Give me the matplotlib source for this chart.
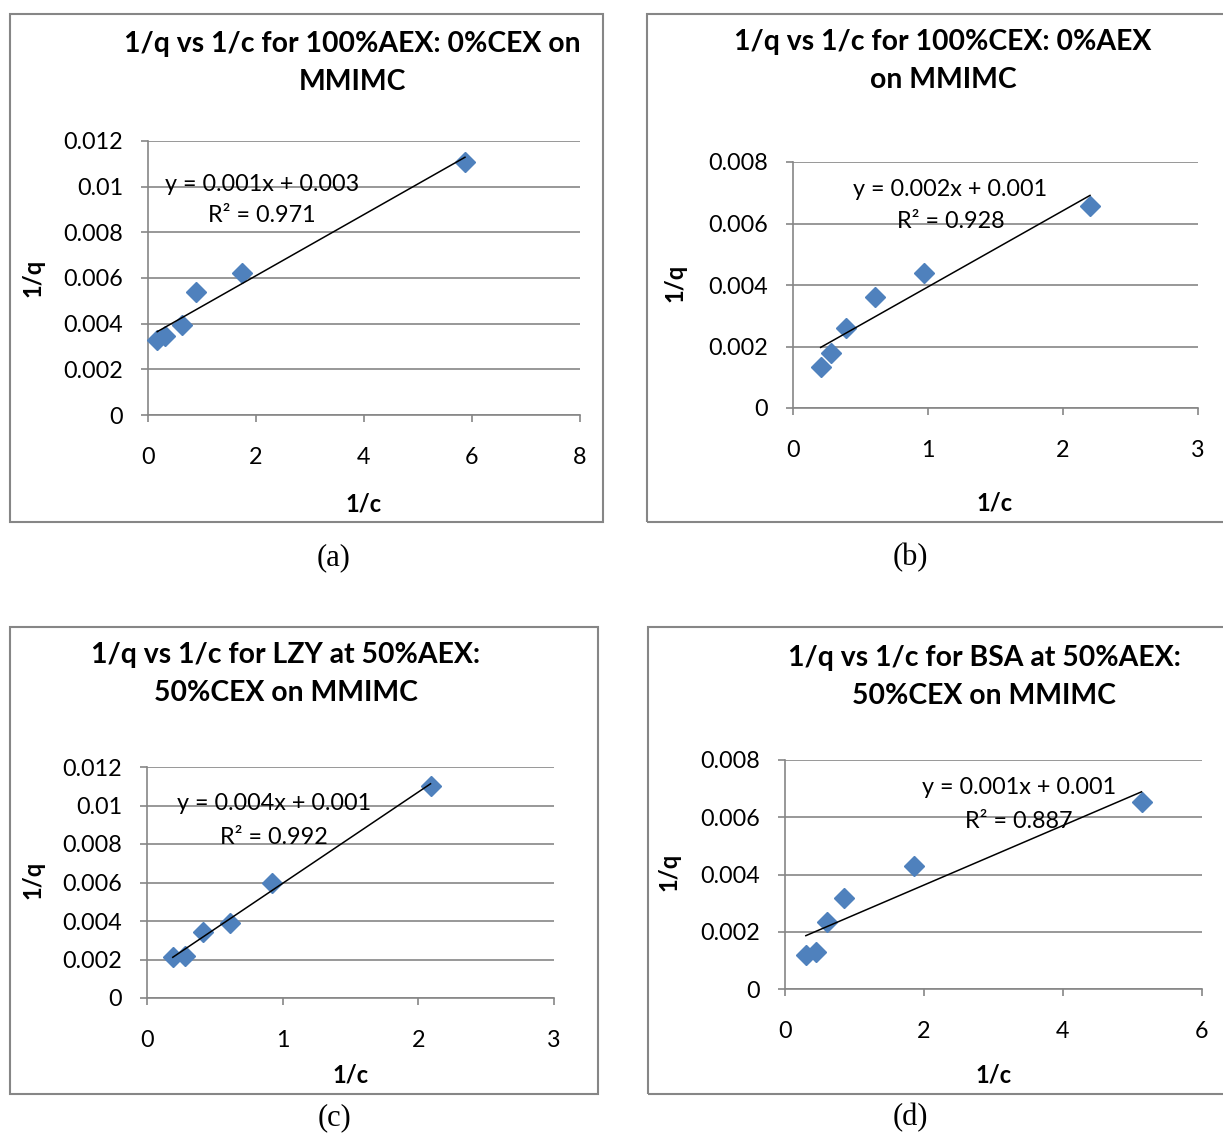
import numpy as np
import matplotlib
matplotlib.use("Agg")
import matplotlib.pyplot as plt
from matplotlib.patches import Rectangle

W, H = 1223, 1135

# values: x = 1/c, y = 1/q
x_a = [0.17, 0.31, 0.63, 0.89, 1.74, 5.87]
y_a = [0.0033, 0.00345, 0.00395, 0.0054, 0.0062, 0.0111]
x_b = [0.205, 0.28, 0.39, 0.61, 0.97, 2.2]
y_b = [0.00134, 0.0018, 0.00259, 0.0036, 0.0044, 0.00658]
x_c = [0.19, 0.28, 0.41, 0.61, 0.92, 2.09]
y_c = [0.00212, 0.0022, 0.00342, 0.00389, 0.006, 0.011]
x_d = [0.30, 0.44, 0.61, 0.85, 1.85, 5.13]
y_d = [0.00119, 0.0013, 0.00233, 0.00319, 0.0043, 0.00655]

titles = [
    "1/q vs 1/c for 100%AEX: 0%CEX on\nMMIMC",
    "1/q vs 1/c for 100%CEX: 0%AEX\non MMIMC",
    "1/q vs 1/c for LZY at 50%AEX:\n50%CEX on MMIMC",
    "1/q vs 1/c for BSA at 50%AEX:\n50%CEX on MMIMC",
]
equations = ["y = 0.001x + 0.003", "y = 0.002x + 0.001",
             "y = 0.004x + 0.001", "y = 0.001x + 0.001"]
r2_texts = ["R² = 0.971", "R² = 0.928", "R² = 0.992", "R² = 0.887"]
captions = ["(a)", "(b)", "(c)", "(d)"]

xticks_a = [0, 2, 4, 6, 8]
xticks_b = [0, 1, 2, 3]
xticks_c = [0, 1, 2, 3]
xticks_d = [0, 2, 4, 6]
yticks_12 = [0, 0.002, 0.004, 0.006, 0.008, 0.01, 0.012]
yticks_8 = [0, 0.002, 0.004, 0.006, 0.008]
ytick_labels_12 = ["0", "0.002", "0.004", "0.006", "0.008", "0.01", "0.012"]
ytick_labels_8 = ["0", "0.002", "0.004", "0.006", "0.008"]

# layout in pixels (left, top, right, bottom) and text anchors
layout = [
    dict(ax=(148, 141, 580, 415), frame=(10, 14, 603, 522), title=(352, 63),
         ylab=(33, 278), xlab=(364, 504), eq=(262, 185), r2=(262, 216), cap=(334, 558)),
    dict(ax=(793, 162, 1198, 408), frame=(647, 14, 1228, 522), title=(943, 61),
         ylab=(675, 283), xlab=(995, 503), eq=(950, 189), r2=(951, 222), cap=(910, 558)),
    dict(ax=(147, 767, 554, 998), frame=(10, 627, 598, 1094), title=(286, 674),
         ylab=(33, 880), xlab=(351, 1075), eq=(274, 804), r2=(274, 837), cap=(334, 1118)),
    dict(ax=(785, 760, 1202, 989), frame=(648, 627, 1228, 1094), title=(984, 677),
         ylab=(669, 872), xlab=(994, 1075), eq=(1019, 788), r2=(1019, 821), cap=(910, 1118)),
]

panels = [
    (x_a, y_a, xticks_a, yticks_12, ytick_labels_12),
    (x_b, y_b, xticks_b, yticks_8, ytick_labels_8),
    (x_c, y_c, xticks_c, yticks_12, ytick_labels_12),
    (x_d, y_d, xticks_d, yticks_8, ytick_labels_8),
]

gray = "#868686"
blue = "#4F81BD"
font = ["Lato", "DejaVu Sans"]
plt.rcParams["font.family"] = font


def fx(px):
    return px / W


def fy(py):
    return 1 - py / H


fig = plt.figure(figsize=(W / 100, H / 100), dpi=100)

for i, (xs, ys, xt, yt, ytl) in enumerate(panels):
    lo = layout[i]
    l, t, r, b = lo["frame"]
    fig.patches.append(Rectangle((fx(l), fy(b)), fx(r - l), (b - t) / H,
                                 transform=fig.transFigure, fill=False,
                                 edgecolor=gray, lw=1.5))
    l, t, r, b = lo["ax"]
    ax = fig.add_axes([fx(l), fy(b), fx(r - l), (b - t) / H])
    ax.set_xlim(xt[0], xt[-1])
    ax.set_ylim(yt[0], yt[-1])
    ax.set_xticks(xt)
    ax.set_xticklabels([str(v) for v in xt])
    ax.set_yticks(yt)
    ax.set_yticklabels(ytl)
    ax.grid(axis="y", color=gray, lw=1.2)
    ax.set_axisbelow(True)
    for s in ["top", "right"]:
        ax.spines[s].set_visible(False)
    for s in ["left", "bottom"]:
        ax.spines[s].set_color(gray)
        ax.spines[s].set_linewidth(1.2)
    ax.tick_params(axis="both", direction="out", length=5, width=1.2, color=gray,
                   labelsize=16.8, labelcolor="black")
    ax.tick_params(axis="y", pad=13)
    ax.tick_params(axis="x", pad=18)

    ax.plot(xs, ys, linestyle="none", marker="D", ms=10, color=blue, zorder=3,
            clip_on=False)
    k, c0 = np.polyfit(xs, ys, 1)
    xl = np.array([min(xs), max(xs)])
    ax.plot(xl, k * xl + c0, color="black", lw=1.1, zorder=4)

    fig.text(fx(lo["title"][0]), fy(lo["title"][1]), titles[i], ha="center",
             va="center", fontsize=20.4, fontweight="bold", linespacing=1.55)
    fig.text(fx(lo["ylab"][0]), fy(lo["ylab"][1]), "1/q", rotation=90, ha="center",
             va="center", fontsize=17, fontweight="bold")
    fig.text(fx(lo["xlab"][0]), fy(lo["xlab"][1]), "1/c", ha="center",
             va="center", fontsize=17, fontweight="bold")
    fig.text(fx(lo["eq"][0]), fy(lo["eq"][1]), equations[i], ha="center",
             va="center", fontsize=16.8)
    fig.text(fx(lo["r2"][0]), fy(lo["r2"][1]), r2_texts[i], ha="center",
             va="center", fontsize=16.8)
    fig.text(fx(lo["cap"][0]), fy(lo["cap"][1]), captions[i], ha="center",
             va="center", fontsize=22, family="Liberation Serif")

fig.savefig("out.png", dpi=100, facecolor="white")
